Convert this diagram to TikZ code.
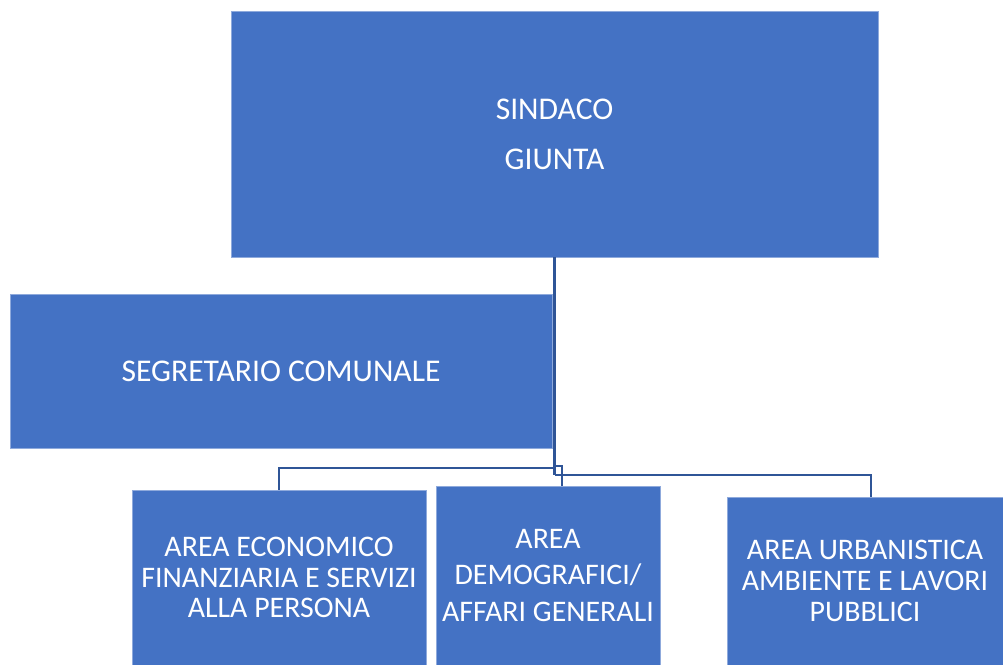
\documentclass[tikz,border=0pt]{standalone}
\usepackage{fontspec}
\setmainfont{Carlito}
\usetikzlibrary{calc}
\definecolor{boxblue}{HTML}{4472C4}
\definecolor{lineblue}{HTML}{2F5597}
\tikzset{
  orgbox/.style={rectangle, fill=boxblue, draw=boxblue!60!white, line width=0.4pt,
    text=white, align=center, font=\fontsize{17}{17.5}\selectfont, inner sep=0pt},
  link/.style={draw=lineblue, line width=1.2pt}
}

\begin{document}
\begin{tikzpicture}[x=0.02cm, y=-0.02cm]
	%%%%% START %%%%%
	\useasboundingbox (0,0) rectangle (1003,665);

	\node[orgbox, minimum width=12.94cm, minimum height=4.92cm,
	  font=\fontsize{18}{28.5}\selectfont] (sindaco) at (554.5,134) {SINDACO\\GIUNTA};
	\node[orgbox, minimum width=10.84cm, minimum height=3.08cm,
	  font=\fontsize{18}{20}\selectfont] (segretario) at (281,371) {SEGRETARIO COMUNALE};

	\node[orgbox, minimum width=5.88cm, minimum height=3.5cm] (areaEco) at (279,577.5)
	  {AREA ECONOMICO\\FINANZIARIA E SERVIZI\\ALLA PERSONA};
	\node[orgbox, minimum width=4.48cm, minimum height=3.58cm,
	  font=\fontsize{17}{21}\selectfont] (areaDemo) at (548,575.5)
	  {AREA\\DEMOGRAFICI/\\AFFARI GENERALI};
	\node[orgbox, minimum width=5.52cm, minimum height=3.36cm] (areaUrb) at (865,581)
	  {AREA URBANISTICA\\AMBIENTE E LAVORI\\PUBBLICI};

	% connectors
	\coordinate (hub) at (sindaco.south |- 0,475);
	\coordinate (tick) at (562,466);
	\coordinate (urbTop) at ($(areaUrb.north)+(6,0)$);

	\draw[link] (sindaco.south) -- (hub);
	\draw[link] (sindaco.south |- 0,468) -| (areaEco.north);
	\draw[link] (sindaco.south |- tick) -- (tick) -- (tick |- areaDemo.north);
	\draw[link] (hub) -| (urbTop);
	%%%%% END %%%%%
\end{tikzpicture}
\end{document}
